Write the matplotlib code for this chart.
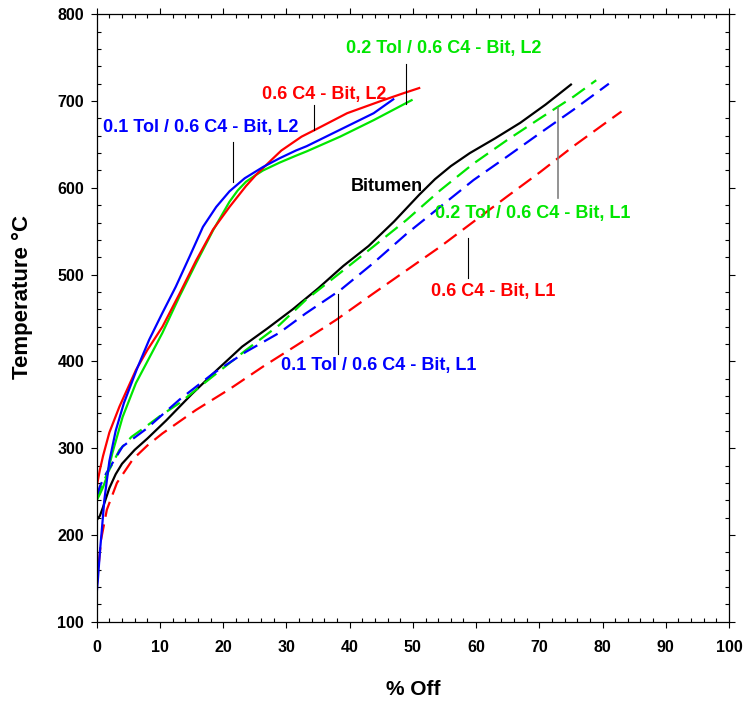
import matplotlib
matplotlib.use("Agg")
import matplotlib.pyplot as plt
from matplotlib.ticker import MultipleLocator

plt.rcParams["font.family"] = ["Liberation Sans", "DejaVu Sans"]
plt.rcParams["font.weight"] = "bold"

# ---- data (% off, temperature degC) ----
bit_x = [0, 0.5, 1, 2, 3, 4, 6, 8, 11, 15, 19, 23, 27, 31, 35, 39, 43, 47, 51, 53.5, 56, 59, 63, 67, 71, 75]
bit_y = [217, 222, 232, 254, 270, 282, 298, 311, 332, 362, 390, 417, 438, 460, 484, 510, 533, 561, 592, 610, 625, 640, 657, 675, 696, 719]

g1_x = [0, 0.5, 1.5, 3.6, 5.5, 7.8, 10, 13.1, 18.4, 23.6, 28.9, 33.1, 38.5, 43.7, 49, 54.3, 59.6, 64.9, 70.1, 75.4, 79]
g1_y = [240, 252, 268, 298, 313, 325, 337, 352, 383, 413, 442, 471, 502, 532, 563, 597, 628, 655, 680, 705, 724]

b1_x = [0, 0.5, 1.5, 4.1, 7.8, 13.1, 18.4, 23.6, 28.9, 33, 38.5, 43.7, 49, 54.3, 59.6, 64.9, 70.1, 75.4, 81]
b1_y = [244, 256, 271, 302, 322, 356, 386, 411, 433, 455, 482, 513, 547, 578, 609, 636, 663, 690, 720]

r1_x = [0, 0.3, 0.7, 1.6, 3.2, 5.7, 8, 10.4, 15.7, 21, 26.3, 31.5, 37.9, 43.7, 49, 54.3, 59.6, 64.9, 70.1, 75.4, 80.7, 83]
r1_y = [141, 165, 195, 229, 260, 287, 303, 317, 344, 368, 394, 418, 448, 478, 505, 532, 561, 590, 618, 648, 676, 688]

r2_x = [0, 0.5, 1, 2, 3.6, 6.2, 8, 10.4, 13.1, 15.7, 18.4, 21, 23.6, 25.2, 27.9, 29.2, 30.6, 32.4, 34.3, 39.6, 45.3, 48.5, 51]
r2_y = [256, 275, 291, 318, 348, 390, 413, 440, 478, 516, 552, 578, 602, 615, 634, 643, 650, 659, 666, 686, 701, 709, 715]

b2_x = [0, 0.2, 0.5, 0.8, 1.2, 2.0, 3.0, 4.3, 6.4, 8.3, 10.4, 12.5, 14.7, 16.8, 18.9, 21, 23.4, 26.3, 28.9, 31.5, 33.2, 38.5, 43.8, 46.9]
b2_y = [133, 150, 180, 205, 240, 285, 320, 352, 392, 425, 456, 486, 521, 555, 578, 596, 611, 624, 634, 643, 648, 667, 686, 702]

g2_x = [0, 0.5, 1, 1.5, 2.5, 4.1, 6.2, 7.8, 10.4, 13.1, 15.7, 18.4, 21, 22.3, 23.6, 25, 26.3, 28.9, 31.5, 33.2, 38.5, 43.8, 49.8]
g2_y = [240, 247, 255, 265, 295, 336, 375, 397, 433, 475, 513, 551, 584, 597, 607, 614, 620, 629, 637, 642, 659, 678, 701]

RED, GREEN, BLUE = "#ff0000", "#00e600", "#0000ff"

fig = plt.figure(figsize=(7.48, 7.04), dpi=100)
ax = fig.add_axes([0.1293, 0.1169, 0.8453, 0.8628])

lw = 1.6
dash = (7, 3.5)
ax.plot(bit_x, bit_y, color="black", lw=lw)
ax.plot(g1_x, g1_y, color=GREEN, lw=lw, dashes=dash)
ax.plot(b1_x, b1_y, color=BLUE, lw=lw, dashes=dash)
ax.plot(r1_x, r1_y, color=RED, lw=lw, dashes=dash)
ax.plot(g2_x, g2_y, color=GREEN, lw=lw)
ax.plot(r2_x, r2_y, color=RED, lw=lw)
ax.plot(b2_x, b2_y, color=BLUE, lw=lw)

# labels with their pointer lines
fs = 13
ax.text(16.4, 669, "0.1 Tol / 0.6 C4 - Bit, L2", color=BLUE, fontsize=fs, ha="center", va="center")
ax.plot([21.6, 21.6], [653, 607], color="black", lw=0.8)
ax.text(35.9, 707, "0.6 C4 - Bit, L2", color=RED, fontsize=fs, ha="center", va="center")
ax.plot([34.3, 34.3], [695, 667], color="black", lw=0.8)
ax.text(54.8, 761, "0.2 Tol / 0.6 C4 - Bit, L2", color=GREEN, fontsize=fs, ha="center", va="center")
ax.plot([48.9, 48.9], [743, 697], color="black", lw=0.8)
ax.text(45.9, 602, "Bitumen", color="black", fontsize=fs, ha="center", va="center")
ax.text(53.5, 571, "0.2 Tol / 0.6 C4 - Bit, L1", color=GREEN, fontsize=fs, ha="left", va="center", clip_on=False)
ax.plot([72.9, 72.9], [692, 588], color="#808080", lw=1.2)
ax.text(62.7, 480, "0.6 C4 - Bit, L1", color=RED, fontsize=fs, ha="center", va="center")
ax.plot([58.8, 58.8], [542, 496], color="black", lw=0.8)
ax.text(44.6, 395, "0.1 Tol / 0.6 C4 - Bit, L1", color=BLUE, fontsize=fs, ha="center", va="center")
ax.plot([38.2, 38.2], [478, 409], color="black", lw=0.8)

ax.set_xlim(0, 100)
ax.set_ylim(100, 800)
ax.xaxis.set_major_locator(MultipleLocator(10))
ax.xaxis.set_minor_locator(MultipleLocator(2))
ax.yaxis.set_major_locator(MultipleLocator(100))
ax.yaxis.set_minor_locator(MultipleLocator(20))
ax.tick_params(which="major", direction="out", length=4, width=0.8, labelsize=11.5)
ax.tick_params(axis="x", which="major", pad=9)
ax.tick_params(axis="y", which="major", pad=5)
ax.tick_params(which="minor", direction="in", length=3, width=0.8)
ax.tick_params(which="both", top=True, right=True)
for lab in ax.get_xticklabels() + ax.get_yticklabels():
    lab.set_fontweight("bold")
for s in ax.spines.values():
    s.set_linewidth(0.9)

ax.set_xlabel("% Off", fontsize=15, fontweight="bold")
ax.set_ylabel("Temperature °C", fontsize=16, fontweight="bold")
ax.xaxis.set_label_coords(0.5, -0.096)
ax.yaxis.set_label_coords(-0.1, 0.535)

fig.savefig("out.png", dpi=100)
